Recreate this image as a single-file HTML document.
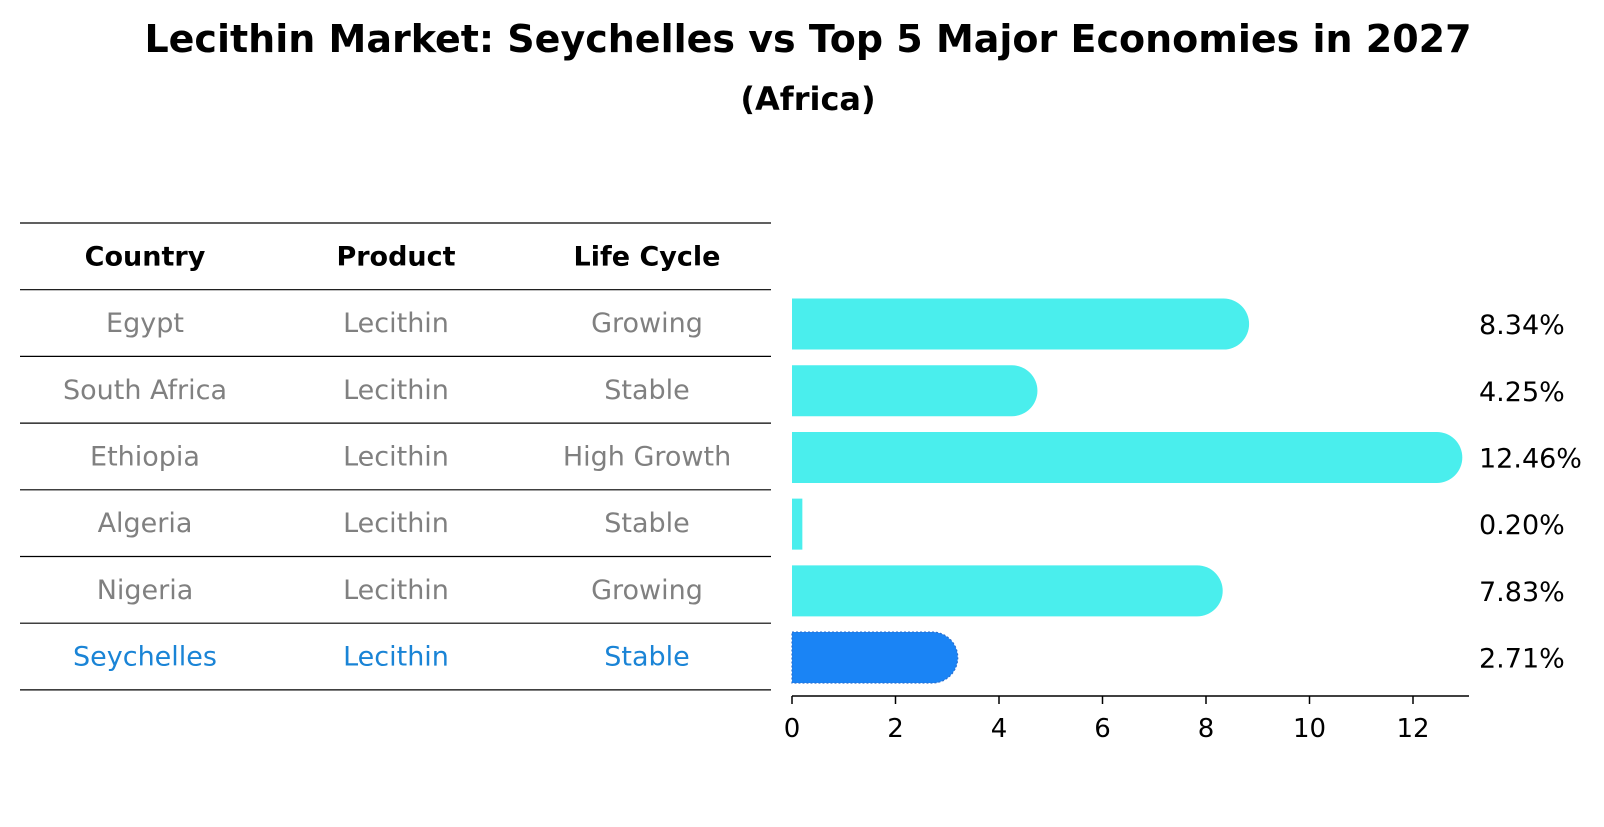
<!DOCTYPE html>
<html><head><meta charset="utf-8"><style>
body{margin:0;background:#fff;width:1604px;height:823px;overflow:hidden;font-family:"DejaVu Sans","Liberation Sans",sans-serif}
</style></head><body>
<svg width="1604" height="823" xmlns="http://www.w3.org/2000/svg" font-family="DejaVu Sans, Liberation Sans, sans-serif">
<text x="808" y="52" text-anchor="middle" font-size="38" font-weight="bold">Lecithin Market: Seychelles vs Top 5 Major Economies in 2027</text>
<text x="808" y="110" text-anchor="middle" font-size="32" font-weight="bold">(Africa)</text>
<g id="table"></g>
<g id="bars"></g>
</svg>
<script>
const countries=["Egypt","South Africa","Ethiopia","Algeria","Nigeria","Seychelles"];
const products=["Lecithin","Lecithin","Lecithin","Lecithin","Lecithin","Lecithin"];
const lifeCycles=["Growing","Stable","High Growth","Stable","Growing","Stable"];
const values=[8.34,4.25,12.46,0.20,7.83,2.71];
const ticks=[0,2,4,6,8,10,12];
const NS="http://www.w3.org/2000/svg";
function mk(tag,attrs,parent){const e=document.createElementNS(NS,tag);for(const k in attrs)e.setAttribute(k,attrs[k]);parent.appendChild(e);return e;}
const tbl=document.getElementById('table'),bars=document.getElementById('bars');
const x0=792,pxPer=(1413-792)/12;
const xs=v=>x0+v*pxPer;
const tTop=223,rowH=66.7,barH=51;
const colX=[145,396,647];
const rowY=i=>tTop+rowH*(i+1);
for(let i=0;i<=countries.length+1;i++){
  const y=i==0?tTop:rowY(i-1);
  const l=mk('line',{x1:20,x2:771,y1:y,y2:y,stroke:'#000','stroke-width':1.2},tbl);
  
  
}
["Country","Product","Life Cycle"].forEach((h,j)=>{
  const t=mk('text',{x:colX[j],y:tTop+rowH/2+9,'text-anchor':'middle','font-size':27,'font-weight':'bold'},tbl);
  t.textContent=h;
  
  
});
countries.forEach((c,i)=>{
  const hl=c==="Seychelles";
  const cy=rowY(i)+rowH/2;
  [c,products[i],lifeCycles[i]].forEach((v,j)=>{
    const t=mk('text',{x:colX[j],y:cy+9,'text-anchor':'middle','font-size':27,fill:hl?'#1a84d6':'#808080'},tbl);
    t.textContent=v;
    
    
  });
  const by=cy-barH/2+1;
  const w=xs(values[i])-x0;
  const r=w>12?barH/2:0;
  const col=hl?'#1a84f5':'#4aeeed';
  let d;
  if(r>0){d=`M${x0},${by}H${x0+w}A${r},${r} 0 0 1 ${x0+w},${by+barH}H${x0}Z`;}
  else{d=`M${x0},${by}H${x0+w}V${by+barH}H${x0}Z`;}
  const p=mk('path',{d:d,fill:col},bars);
  if(hl){p.setAttribute('stroke','#2a6fd0');p.setAttribute('stroke-dasharray','2,2');p.setAttribute('stroke-width','1.2');}
  
  
  const lb=mk('text',{x:1479,y:cy+11,'font-size':27},bars);
  lb.textContent=values[i].toFixed(2)+'%';
  
  
});
const ay=696;
const ax=mk('line',{x1:x0,x2:1469,y1:ay,y2:ay,stroke:'#000','stroke-width':1.5},bars);


ticks.forEach(t=>{
  const tk=mk('line',{x1:xs(t),x2:xs(t),y1:ay,y2:ay+8,stroke:'#000','stroke-width':1.5},bars);
  
  
  const tl=mk('text',{x:xs(t),y:ay+41,'text-anchor':'middle','font-size':26},bars);
  tl.textContent=t;
  
  
});
</script>
</body></html>
